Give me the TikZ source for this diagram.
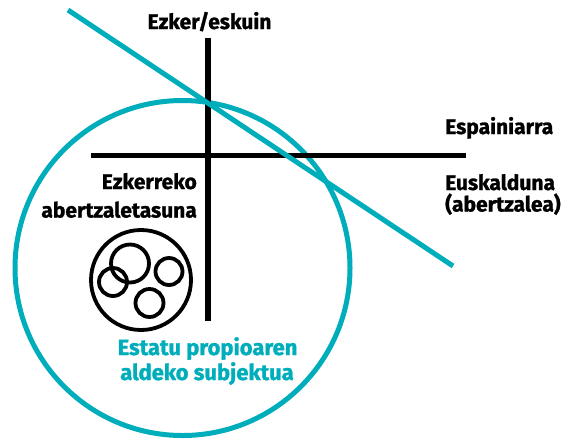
\documentclass[tikz,border=0pt]{standalone}
\usepackage{fontspec}
\setmainfont{Fira Sans}[BoldFeatures={FakeBold=1.2}]
\definecolor{tealc}{RGB}{0,174,187}
\begin{document}
\begin{tikzpicture}[x=1pt,y=-1pt,
  lbl/.style={inner sep=0pt,font=\fontsize{21}{25}\selectfont\bfseries},
  axis/.style={line width=5.5pt,black},
  ring/.style={line width=3.8pt,black},
  tline/.style={line width=5pt,tealc}]
\useasboundingbox[fill=white] (0,0) rectangle (577,440);
% big teal circle
\draw[tline] (182.5,268) circle[radius=167.5];
% axes
\coordinate (vtop) at (208,38);
\coordinate (vbot) at (208,321);
\coordinate (hl) at (91,155.5);
\coordinate (hr) at (466,155.5);
\draw[axis] (vtop) -- (vbot);
\draw[axis] (hl) -- (hr);
% teal line
\coordinate (ta) at (68,10);
\coordinate (tb) at (453,266);
\draw[tline] (ta) -- (tb);
% circles
\draw[ring] (141,280) circle[radius=50];
\draw[ring] (130,263.5) circle[radius=19];
\draw[ring] (113,282) circle[radius=14];
\draw[ring] (169,271.5) circle[radius=13.5];
\draw[ring] (149.5,303) circle[radius=14];
% labels
\node[lbl,anchor=base] (t1) at (209.5,29) {Ezker/eskuin};
\node[lbl,anchor=base west] (t2) at (445,134) {Espainiarra};
\node[lbl,anchor=base west] (t3) at (445,190) {Euskalduna};
\node[lbl,anchor=base west] (t4) at (445,211.5) {(abertzalea)};
\node[lbl,anchor=base east] (t5) at (197,189) {Ezkerreko};
\node[lbl,anchor=base east] (t6) at (197,217.5) {abertzaletasuna};
\node[lbl,anchor=base,text=tealc,font=\fontsize{22}{25}\selectfont\bfseries] (t7) at (207.5,355) {Estatu propioaren};
\node[lbl,anchor=base,text=tealc,font=\fontsize{22}{25}\selectfont\bfseries] (t8) at (207,380) {aldeko subjektua};
\end{tikzpicture}
\end{document}
